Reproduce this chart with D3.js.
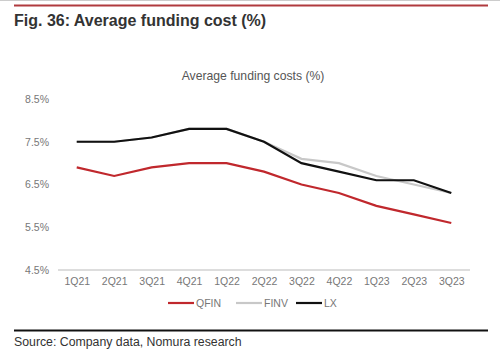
<!DOCTYPE html>
<html>
<head>
<meta charset="utf-8">
<script src="https://cdn.jsdelivr.net/npm/d3@7"></script>
<style>
body { margin: 0; background: #fff; font-family: "Liberation Sans", Arial, sans-serif; }
</style>
</head>
<body>
<div id="chart"></div>
<script>
const quarters = ["1Q21","2Q21","3Q21","4Q21","1Q22","2Q22","3Q22","4Q22","1Q23","2Q23","3Q23"];
const qfin = [6.9, 6.7, 6.9, 7.0, 7.0, 6.8, 6.5, 6.3, 6.0, 5.8, 5.6];
const finv = [7.5, 7.5, 7.6, 7.8, 7.8, 7.5, 7.1, 7.0, 6.7, 6.5, 6.3];
const lx   = [7.5, 7.5, 7.6, 7.8, 7.8, 7.5, 7.0, 6.8, 6.6, 6.6, 6.3];
const yTicks = [4.5, 5.5, 6.5, 7.5, 8.5];

const width = 500, height = 351;
const margin = { top: 99, bottom: 81, left: 58, right: 30 };

const svg = d3.select("#chart")
  .append("svg")
  .attr("width", width)
  .attr("height", height);

// header rules + figure title
svg.append("line")
  .attr("x1", 0).attr("x2", 500).attr("y1", 0.5).attr("y2", 0.5)
  .attr("stroke", "#ccc").attr("stroke-width", 1);

svg.append("line")
  .attr("x1", 14).attr("x2", 488).attr("y1", 5.5).attr("y2", 5.5)
  .attr("stroke", "#b03a3e").attr("stroke-width", 2);

svg.append("text")
  .text("Fig. 36: Average funding cost (%)")
  .attr("x", 14).attr("y", 26)
  .style("font-size", "16px").style("font-weight", "bold")
  .style("fill", "#333");

svg.append("text")
  .text("Average funding costs (%)")
  .attr("x", 253).attr("y", 80)
  .attr("text-anchor", "middle")
  .style("font-size", "12.2px")
  .style("fill", "#555");

const xScale = d3.scalePoint()
  .domain(quarters)
  .range([margin.left, width - margin.right])
  .padding(0.5);

const yScale = d3.scaleLinear()
  .domain([4.5, 8.5])
  .range([height - margin.bottom, margin.top]);

// x axis
const xAxis = d3.axisBottom(xScale).tickSize(0).tickPadding(8);
const gx = svg.append("g")
  .attr("transform", `translate(0,${height - margin.bottom})`)
  .call(xAxis);
gx.select("path").attr("stroke", "#bbb").attr("d", `M${margin.left},0H${width - margin.right}`);
gx.selectAll("text")
  .style("font-size", "10.5px")
  .style("font-family", "Liberation Sans, Arial, sans-serif")
  .style("fill", "#777");

// y axis (labels only)
const yAxis = d3.axisLeft(yScale)
  .tickValues(yTicks)
  .tickSize(0)
  .tickPadding(9)
  .tickFormat(d => d.toFixed(1) + "%");
const gy = svg.append("g")
  .attr("transform", `translate(${margin.left},0)`)
  .call(yAxis);
gy.select("path").remove();
gy.selectAll("text")
  .style("font-size", "10.5px")
  .style("font-family", "Liberation Sans, Arial, sans-serif")
  .style("fill", "#777");

const series = [
  { name: "QFIN", values: qfin, color: "#c0282d" },
  { name: "FINV", values: finv, color: "#c8c8c8" },
  { name: "LX", values: lx, color: "#111" }
];

const line = d3.line()
  .x((d, i) => xScale(quarters[i]))
  .y(d => yScale(d));

svg.append("g")
  .selectAll("path")
  .data(series)
  .enter()
  .append("path")
  .attr("d", d => line(d.values))
  .attr("fill", "none")
  .attr("stroke", d => d.color)
  .attr("stroke-width", 2.2);

// legend
const legendX = [168, 236, 296];
const legend = svg.append("g")
  .selectAll("g")
  .data(series)
  .enter()
  .append("g")
  .attr("transform", (d, i) => `translate(${legendX[i]},303)`);
legend.append("line")
  .attr("x1", 0).attr("x2", 26)
  .attr("stroke", d => d.color)
  .attr("stroke-width", 2.2);
legend.append("text")
  .text(d => d.name)
  .attr("x", 28).attr("y", 3.5)
  .style("font-size", "10.5px")
  .style("fill", "#777");

// footer
svg.append("line")
  .attr("x1", 14).attr("x2", 488).attr("y1", 330.5).attr("y2", 330.5)
  .attr("stroke", "#111").attr("stroke-width", 2);

svg.append("text")
  .text("Source: Company data, Nomura research")
  .attr("x", 14).attr("y", 346)
  .style("font-size", "12.3px")
  .style("fill", "#333");
</script>
</body>
</html>
